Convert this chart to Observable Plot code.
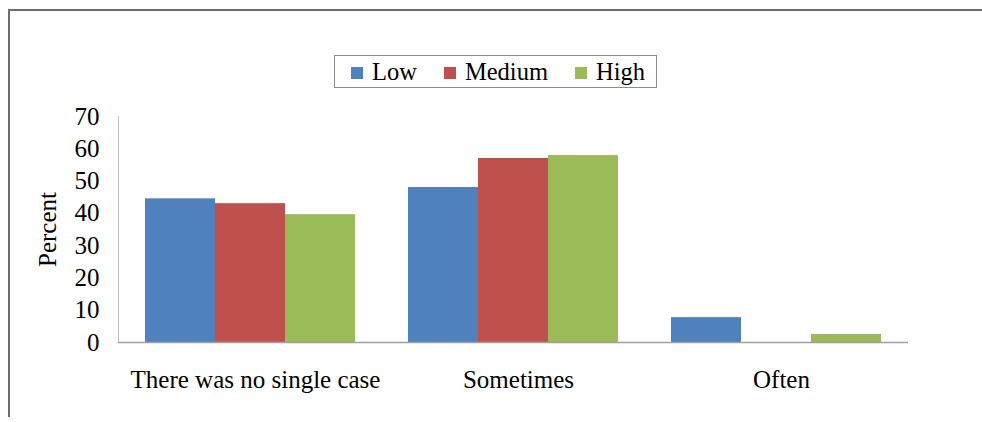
<!DOCTYPE html>
<html>
<head>
<meta charset="utf-8">
<script src="https://cdn.jsdelivr.net/npm/d3@7"></script>
<script src="https://cdn.jsdelivr.net/npm/@observablehq/plot@0.6"></script>
<style>
  body { margin: 0; background: #fff; font-family: "Liberation Serif", "Times New Roman", serif; }
  #wrap { position: relative; width: 982px; height: 422px; overflow: hidden; }
  #border { position: absolute; left: 8px; top: 9px; right: -10px; bottom: 5px;
            border-top: 2px solid #6e6e6e; border-left: 2px solid #6e6e6e; }
  #legend { position: absolute; left: 334px; top: 55px; height: 31px; box-sizing: content-box;
            border: 1px solid #8c8c8c; display: flex; align-items: center;
            padding: 0 11px 0 16px; font-size: 24.5px; color: #000; background: #fff;
            font-family: "Liberation Serif", "Times New Roman", serif; }
  #legend .item { display: flex; align-items: center; }
  #legend .item + .item { margin-left: 27px; }
  #legend .sw { width: 12px; height: 12px; margin-right: 9px; margin-top: 3px; }
  #chart { position: absolute; left: 0; top: 96px; width: 982px; height: 326px; }
  #chart svg { position: absolute; left: 0; top: 0; }
</style>
</head>
<body>
<div id="wrap">
  <div id="border"></div>
  <div id="legend"></div>
  <div id="chart"></div>
</div>
<script>
// Response categories along the x axis
const categories = ["There was no single case", "Sometimes", "Often"];
// Groups compared within each category
const series = ["Low", "Medium", "High"];
// Percent of respondents per category, one array per group
const low = [44.5, 48.0, 7.7];
const medium = [43.0, 57.0, 0];
const high = [39.6, 57.9, 2.5];
const colors = ["#4F81BD", "#C0504D", "#9BBB59"];
const yTicks = [0, 10, 20, 30, 40, 50, 60, 70];

const values = { Low: low, Medium: medium, High: high };
const rows = categories.flatMap((category, i) =>
  series.map((s) => ({ category, series: s, value: values[s][i] }))
);

// Legend above the plot
const legend = document.getElementById("legend");
series.forEach((s, i) => {
  const item = document.createElement("div");
  item.className = "item";
  const sw = document.createElement("span");
  sw.className = "sw";
  sw.style.background = colors[i];
  const label = document.createElement("span");
  label.textContent = s;
  item.append(sw, label);
  legend.append(item);
});

// Shared layout for both layers
const layout = {
  width: 982,
  height: 326,
  marginLeft: 118,
  marginRight: 74,
  marginTop: 20,
  marginBottom: 80,
  style: { fontFamily: "Liberation Serif, Times New Roman, serif", fontSize: "25px", color: "#000", background: "transparent" },
  y: { domain: [0, 70] }
};
const band = { domain: categories, paddingInner: 0.2, paddingOuter: 0.1 };

// Bars: one facet per category, the three groups side by side within it
const bars = Plot.plot({
  ...layout,
  fx: { ...band, axis: null },
  x: { domain: series, padding: 0, axis: null },
  y: { ...layout.y, axis: null },
  color: { domain: series, range: colors },
  marks: [
    Plot.barY(rows, { fx: "category", x: "series", y: "value", fill: "series" })
  ]
});

// Axes, baseline and category labels drawn over the bars
const axes = Plot.plot({
  ...layout,
  x: { ...band, label: null },
  marks: [
    Plot.frame({ anchor: "left", stroke: "#c4c4c4" }),
    Plot.ruleY([0], { stroke: "#a0a0a0", strokeWidth: 1.5 }),
    Plot.axisY({ ticks: yTicks, tickSize: 0, tickPadding: 19,
                 label: "Percent", labelAnchor: "center", labelArrow: "none", labelOffset: 80 }),
    Plot.axisX({ anchor: "bottom", tickSize: 0, tickPadding: 28, dx: 5, label: null })
  ]
});

const chart = document.getElementById("chart");
chart.append(bars, axes);
</script>
</body>
</html>
